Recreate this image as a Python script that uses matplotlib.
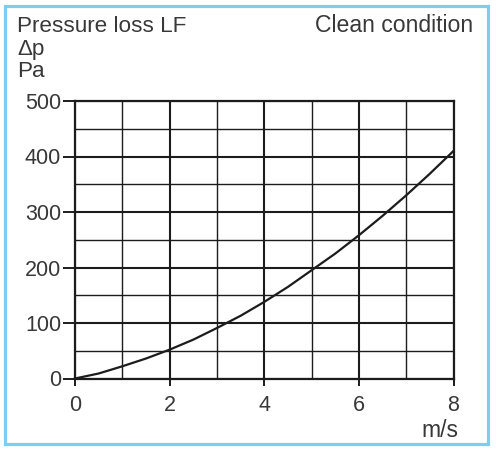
import matplotlib
matplotlib.use("Agg")
import matplotlib.pyplot as plt
from matplotlib.patches import Rectangle
from matplotlib.ticker import MultipleLocator

plt.rcParams['font.family'] = ['Liberation Sans', 'DejaVu Sans']

# Data
velocity = [0, 0.5, 1, 1.5, 2, 2.5, 3, 3.5, 4, 4.5, 5, 5.5, 6, 6.5, 7, 7.5, 8]
pressure = [0, 9, 22, 36, 52, 70, 91, 113, 138, 165, 195, 225, 258, 293, 330, 369, 410]
x_ticks = [0, 2, 4, 6, 8]
y_ticks = [0, 100, 200, 300, 400, 500]

W, H = 500, 454
fig = plt.figure(figsize=(W / 100, H / 100), dpi=100)
fig.patch.set_facecolor('white')

def fx(px):
    return px / W
def fy(py):
    return 1 - py / H

# light blue frame
fig.patches.append(Rectangle((fx(5.3), fy(444)), fx(488) - fx(5.3), fy(6.2) - fy(444),
                             transform=fig.transFigure, fill=False,
                             edgecolor='#7ccdf0', linewidth=2.3, zorder=0))

ax = fig.add_axes([fx(75), fy(378.5), fx(453.5) - fx(75), fy(101) - fy(378.5)])
ax.set_xlim(0, 8)
ax.set_ylim(0, 500)

line_col = '#1c1c1c'
ax.xaxis.set_minor_locator(MultipleLocator(1))
ax.yaxis.set_minor_locator(MultipleLocator(50))
ax.set_xticks(x_ticks)
ax.set_yticks(y_ticks)
ax.set_xticklabels([str(v) for v in x_ticks])
ax.set_yticklabels([str(v) for v in y_ticks])

ax.grid(which='major', color=line_col, linewidth=1.5)
ax.grid(which='minor', color=line_col, linewidth=1.0)
ax.set_axisbelow(True)
for s in ax.spines.values():
    s.set_color(line_col)
    s.set_linewidth(1.6)

tc = '#383838'
ax.tick_params(which='major', direction='out', width=1.4, color=line_col,
               labelsize=15.5, labelcolor=tc)
ax.tick_params(axis='y', which='major', length=9, pad=1)
ax.tick_params(axis='x', which='major', length=5, pad=7)
ax.tick_params(which='minor', length=0)

ax.plot(velocity, pressure, color=line_col, linewidth=1.6, clip_on=False, zorder=3)

fig.text(fx(17), fy(32), 'Pressure loss LF', fontsize=16.2, color=tc, ha='left', va='baseline')
fig.text(fx(17), fy(55), 'Δp', fontsize=16.2, color=tc, ha='left', va='baseline')
fig.text(fx(17), fy(77), 'Pa', fontsize=16.2, color=tc, ha='left', va='baseline')
fig.text(fx(473), fy(32), 'Clean condition', fontsize=16.6, color=tc, ha='right', va='baseline')
fig.text(fx(458), fy(437), 'm/s', fontsize=16.5, color=tc, ha='right', va='baseline')

fig.savefig('out.png', dpi=100, facecolor='white')
